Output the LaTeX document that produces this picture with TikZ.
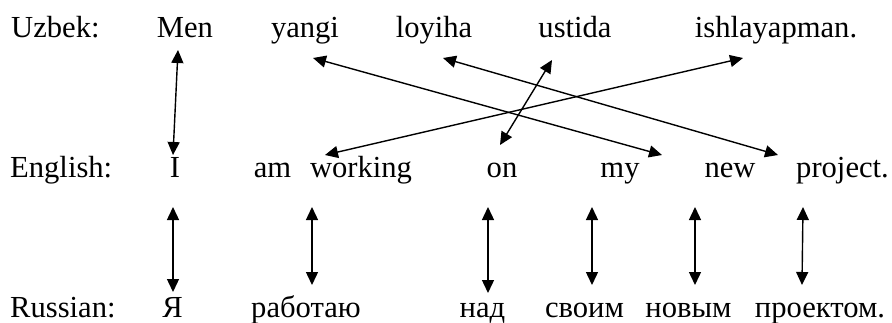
\documentclass[tikz,border=0pt]{standalone}
\usepackage{fontspec}
\setmainfont{Liberation Serif}
\usetikzlibrary{arrows.meta}

\begin{document}
\begin{tikzpicture}[x=1pt, y=-1pt,
  word/.style={anchor=base, inner sep=0pt, font=\fontsize{30.6}{36}\selectfont},
  lang/.style={anchor=base west, inner sep=0pt, font=\fontsize{30.6}{36}\selectfont},
  link/.style={line width=1.4pt, {Triangle[length=13pt,width=12pt]}-{Triangle[length=13pt,width=12pt]}}]
\useasboundingbox (0,0) rectangle (892,322);

% Uzbek sentence
\node[lang] (uz)   at (11,37)  {Uzbek:};
\node[word] (men)  at (185,37) {Men};
\node[word] (yangi) at (305,37) {yangi};
\node[word] (loyiha) at (434,37) {loyiha};
\node[word] (ustida) at (575,37) {ustida};
\node[word] (ishla) at (776,37) {ishlayapman.};

% English sentence
\node[lang] (en)   at (10,177)  {English:};
\node[word] (i)    at (175,177) {I};
\node[word] (am)   at (272.5,177) {am};
\node[word] (working) at (361,177) {working};
\node[word] (on)   at (502,177) {on};
\node[word] (my)   at (620,177) {my};
\node[word] (new)  at (730,177) {new};
\node[word] (project) at (842.5,177) {project.};

% Russian sentence
\node[lang] (ru)   at (10,317)  {Russian:};
\node[word] (ya)   at (172.5,317) {Я};
\node[word] (rabotayu) at (306,317) {работаю};
\node[word] (nad)  at (482.5,317) {над};
\node[word] (svoim) at (584.5,317) {своим};
\node[word] (novym) at (688.5,317) {новым};
\node[word] (proektom) at (820,317) {проектом.};

% Uzbek -- English alignment
\draw[link] ([shift={(-7,13)}]men.base)    -- ([shift={(-2,-22)}]i.base);
\draw[link] ([shift={(8,21)}]yangi.base)   -- ([shift={(42,-22)}]my.base);
\draw[link] ([shift={(9,21)}]loyiha.base)  -- ([shift={(48,-22)}]new.base);
\draw[link] ([shift={(-23,23)}]ustida.base) -- ([shift={(-2,-32)}]on.base);
\draw[link] ([shift={(-33,21)}]ishla.base) -- ([shift={(-36,-22)}]working.base);

% English -- Russian alignment
\draw[link] ([shift={(-2,30)}]i.base)        -- ([shift={(0.5,-25)}]ya.base);
\draw[link] ([shift={(-49,30)}]working.base) -- ([shift={(6,-32)}]rabotayu.base);
\draw[link] ([shift={(-14,30)}]on.base)      -- ([shift={(5.5,-24)}]nad.base);
\draw[link] ([shift={(-28,30)}]my.base)      -- ([shift={(7.5,-32)}]svoim.base);
\draw[link] ([shift={(-35,30)}]new.base)     -- ([shift={(6.5,-32)}]novym.base);
\draw[link] ([shift={(-39.5,30)}]project.base) -- ([shift={(-18,-32)}]proektom.base);
\end{tikzpicture}
\end{document}
